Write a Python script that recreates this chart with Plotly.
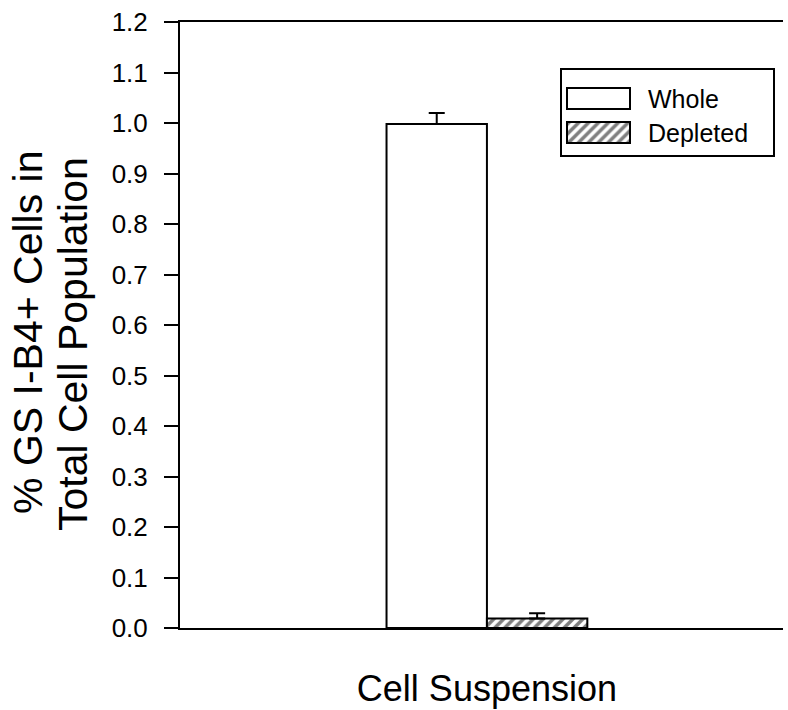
import plotly.graph_objects as go

categories = ["Cell Suspension"]
series_names = ["Whole", "Depleted"]
whole_values = [0.998]
whole_err = [0.022]
depleted_values = [0.019]
depleted_err = [0.010]
y_tick_vals = [0.0, 0.1, 0.2, 0.3, 0.4, 0.5, 0.6, 0.7, 0.8, 0.9, 1.0, 1.1, 1.2]
y_tick_text = [f"{v:.1f}" for v in y_tick_vals]
y_title_lines = ["% GS I-B4+ Cells in", "Total Cell Population"]

FONT = "Arial, Liberation Sans, Helvetica, sans-serif"
HATCH = dict(shape="/", fgcolor="black", bgcolor="white", size=7, solidity=0.5)

fig = go.Figure()

fig.add_trace(go.Bar(
    x=categories, y=whole_values, name=series_names[0],
    marker=dict(color="white", line=dict(color="black", width=2)),
    error_y=dict(type="data", symmetric=False, array=whole_err, arrayminus=[0],
                 color="black", thickness=2, width=8),
    showlegend=False,
))
fig.add_trace(go.Bar(
    x=categories, y=depleted_values, name=series_names[1],
    marker=dict(color="white", pattern=HATCH, line=dict(color="black", width=2)),
    error_y=dict(type="data", symmetric=False, array=depleted_err, arrayminus=[0],
                 color="black", thickness=2, width=8),
    showlegend=False,
))

# Custom legend drawn in an inset axis (larger swatches as in the original)
leg_rows = [28.5, 62.5]
fig.add_trace(go.Bar(
    y=[leg_rows[0]], x=[63], base=[5], width=[21], orientation="h",
    xaxis="x2", yaxis="y2", showlegend=False, hoverinfo="skip",
    marker=dict(color="white", line=dict(color="black", width=2)),
))
fig.add_trace(go.Bar(
    y=[leg_rows[1]], x=[63], base=[5], width=[21], orientation="h",
    xaxis="x2", yaxis="y2", showlegend=False, hoverinfo="skip",
    marker=dict(color="white", pattern=HATCH, line=dict(color="black", width=2)),
))
for name, row in zip(series_names, leg_rows):
    fig.add_annotation(x=84, y=row, xref="x2", yref="y2", text=name,
                       showarrow=False, xanchor="left", yanchor="middle",
                       font=dict(family=FONT, size=25, color="black"))

# Two-line y-axis title as two rotated annotations (tight line spacing)
for line, xp, yp in zip(y_title_lines, [-0.252, -0.177], [0.487, 0.469]):
    fig.add_annotation(
        text=line, xref="paper", yref="paper", x=xp, y=yp,
        xanchor="center", yanchor="middle", textangle=-90, showarrow=False,
        font=dict(family=FONT, size=41, color="black"),
    )

fig.update_layout(
    width=788, height=710,
    margin=dict(l=180, r=5, t=22, b=82),
    paper_bgcolor="white", plot_bgcolor="white",
    barmode="group", bargap=0.667, bargroupgap=0,
    font=dict(family=FONT, color="black"),
    xaxis=dict(
        type="category", range=[-0.509, 0.491], automargin=False,
        showline=True, linecolor="black", linewidth=2, mirror=True,
        showgrid=False, zeroline=False,
        ticks="outside", ticklen=28, tickcolor="rgba(0,0,0,0)",
        tickfont=dict(family=FONT, size=36, color="black"),
    ),
    yaxis=dict(
        range=[0, 1.2], tickvals=y_tick_vals, ticktext=y_tick_text,
        automargin=False,
        showline=True, linecolor="black", linewidth=2, mirror=False,
        showgrid=False, zeroline=False,
        ticks="outside", ticklen=14, tickwidth=2, tickcolor="black",
        ticklabelstandoff=11,
        tickfont=dict(family=FONT, size=26, color="black"),
    ),
    xaxis2=dict(domain=[0.6335, 0.9834], range=[0, 211], anchor="y2",
                automargin=False,
                showline=True, linecolor="black", linewidth=1.5, mirror=True,
                showgrid=False, zeroline=False, showticklabels=False, ticks=""),
    yaxis2=dict(domain=[0.7805, 0.9208], range=[85, 0], anchor="x2",
                automargin=False,
                showline=True, linecolor="black", linewidth=1.5, mirror=True,
                showgrid=False, zeroline=False, showticklabels=False, ticks=""),
)

fig.write_html(
    "out.html",
    config={"displayModeBar": False},
    post_script="document.body.style.margin='0';document.body.style.overflow='hidden';",
)
